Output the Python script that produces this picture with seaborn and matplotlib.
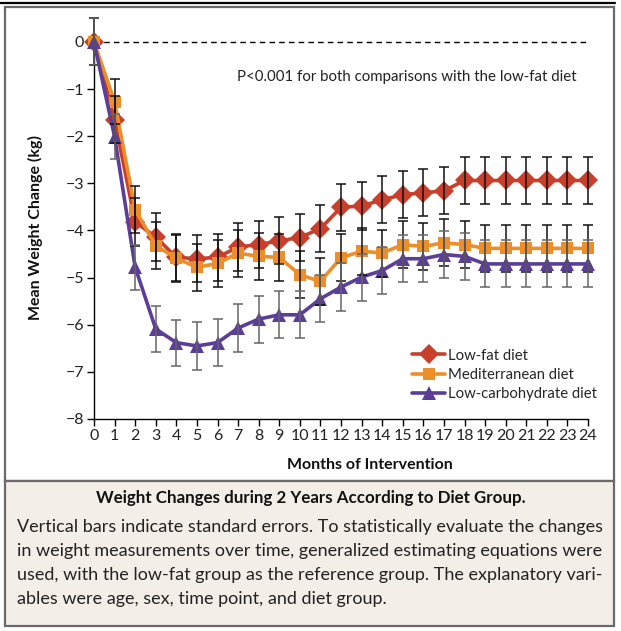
import numpy as np
import pandas as pd
import matplotlib.pyplot as plt
import seaborn as sns
from matplotlib.patches import Rectangle
from matplotlib.lines import Line2D

# --------------------------------------------------------------
# Data
# --------------------------------------------------------------

months = list(range(25))

low_fat = [0.0, -1.65, -3.82, -4.14, -4.57, -4.6, -4.57, -4.35, -4.3, -4.22, -4.15,
           -3.96, -3.51, -3.48, -3.35, -3.24, -3.2, -3.16, -2.94, -2.94, -2.94,
           -2.94, -2.94, -2.94, -2.94]
mediterranean = [0.0, -1.27, -3.56, -4.32, -4.59, -4.78, -4.7, -4.48, -4.55, -4.57, -4.94,
                 -5.08, -4.58, -4.44, -4.48, -4.3, -4.34, -4.26, -4.3, -4.38, -4.38,
                 -4.38, -4.38, -4.38, -4.38]
low_carb = [0.0, -2.01, -4.78, -6.09, -6.38, -6.45, -6.38, -6.07, -5.88, -5.79, -5.79,
            -5.45, -5.2, -4.99, -4.85, -4.6, -4.6, -4.51, -4.55, -4.71, -4.71,
            -4.71, -4.71, -4.71, -4.71]

se_low_fat = [0.5, 0.5, 0.5, 0.5, 0.5, 0.5, 0.5, 0.5, 0.5, 0.5, 0.5, 0.5, 0.5,
              0.5, 0.5, 0.5, 0.5, 0.5, 0.5, 0.5, 0.5, 0.5, 0.5, 0.5, 0.5]
se_mediterranean = [0.5, 0.48, 0.5, 0.5, 0.5, 0.5, 0.5, 0.5, 0.5, 0.5, 0.5, 0.5, 0.5,
                    0.5, 0.5, 0.5, 0.5, 0.5, 0.5, 0.5, 0.5, 0.5, 0.5, 0.5, 0.5]
se_low_carb = [0.5, 0.48, 0.48, 0.49, 0.49, 0.5, 0.5, 0.5, 0.5, 0.5, 0.5, 0.5, 0.5,
               0.5, 0.5, 0.5, 0.5, 0.5, 0.5, 0.5, 0.5, 0.5, 0.5, 0.5, 0.5]

diets = ["Low-fat diet", "Mediterranean diet", "Low-carbohydrate diet"]
colors = ["#c8402b", "#ec8f2b", "#5a3e98"]
markers = ["D", "s", "^"]
msizes = [10, 9, 10]
bar_colors = ["#111111", "#111111", "#666666"]

df = pd.DataFrame({
    "month": months * 3,
    "change": low_fat + mediterranean + low_carb,
    "se": se_low_fat + se_mediterranean + se_low_carb,
    "diet": [d for d in diets for _ in months],
})

# --------------------------------------------------------------
# Figure
# --------------------------------------------------------------

sns.set_theme(style="white")
plt.rcParams["font.family"] = ["Lato", "DejaVu Sans"]
W, H = 621, 631
fig = plt.figure(figsize=(W / 100, H / 100), dpi=100)


def fx(px):
    return px / W


def fy(py):
    return 1 - py / H


# outer frame and caption box
fig.add_artist(Line2D([0, fx(615)], [fy(2.5), fy(2.5)], color="black", lw=1.6))
fig.patches.append(Rectangle((fx(5), fy(481)), fx(614) - fx(5), fy(7) - fy(481),
                             transform=fig.transFigure, facecolor="white",
                             edgecolor="#6a6a6a", lw=1.6, zorder=-2))
fig.patches.append(Rectangle((fx(5), fy(626)), fx(614) - fx(5), fy(481) - fy(626),
                             transform=fig.transFigure, facecolor="#f4eee9",
                             edgecolor="#6a6a6a", lw=1.6, zorder=-2))

ax = fig.add_axes([fx(94), fy(419), fx(588) - fx(94), fy(16) - fy(419)])
ax.set_facecolor("none")

sns.lineplot(data=df, x="month", y="change", hue="diet", style="diet",
             hue_order=diets, style_order=diets, palette=colors,
             markers=markers, dashes=False, lw=2.6, markeredgewidth=0,
             ax=ax, zorder=3, clip_on=False, legend=False)
for line, ms in zip(ax.lines, msizes):
    line.set_markersize(ms)

for d, c in zip(diets, bar_colors):
    sub = df[df["diet"] == d]
    ax.errorbar(sub["month"], sub["change"], yerr=sub["se"], fmt="none",
                ecolor=c, elinewidth=1.1, capsize=3.5, capthick=1.1,
                zorder=4, clip_on=False)

ax.axhline(0, color="black", lw=1, ls=(0, (4, 3)), zorder=1)

ax.set_xlim(0, 24)
ax.set_ylim(-8, 0.55)
ax.set_xticks(months)
ax.set_yticks(range(-8, 1))
ax.set_yticklabels(["\u22128", "\u22127", "\u22126", "\u22125", "\u22124",
                    "\u22123", "\u22122", "\u22121", "0"])
ax.tick_params(axis="both", direction="out", length=5, width=1, colors="black",
               labelsize=11.5, labelcolor="#222222", left=True, bottom=True, pad=2)
for s in ["top", "right"]:
    ax.spines[s].set_visible(False)
for s in ["left", "bottom"]:
    ax.spines[s].set_color("black")
    ax.spines[s].set_linewidth(1)
ax.spines["left"].set_bounds(-8, 0)
ax.set_xlabel("")
ax.set_ylabel("")

ax.text(23.45, -0.75, "P<0.001 for both comparisons with the low-fat diet",
        ha="right", va="center", fontsize=10.8, color="#222222")

handles = [Line2D([], [], color=c, marker=m, ms=ms, lw=2.6, markeredgewidth=0)
           for c, m, ms in zip(colors, markers, msizes)]
ax.legend(handles, diets, loc="lower right", bbox_to_anchor=(1.03, 0.03),
          frameon=False, fontsize=10.7, handlelength=2.2, handletextpad=0.2,
          labelspacing=0.35, borderaxespad=0)

fig.text(fx(35), fy(228), "Mean Weight Change (kg)", rotation=90, ha="center",
         va="center", fontsize=11.5, fontweight="bold", color="#111111")
fig.text(fx(370), fy(465), "Months of Intervention", ha="center", va="center",
         fontsize=11.5, fontweight="bold", color="#111111")

fig.text(fx(311), fy(498), "Weight Changes during 2 Years According to Diet Group.",
         ha="center", va="center", fontsize=12.2, fontweight="bold", color="#111111")
caption = ["Vertical bars indicate standard errors. To statistically evaluate the changes",
           "in weight measurements over time, generalized estimating equations were",
           "used, with the low-fat group as the reference group. The explanatory vari-",
           "ables were age, sex, time point, and diet group."]
for i, txt in enumerate(caption):
    fig.text(fx(17), fy(527 + 24 * i), txt, ha="left", va="center",
             fontsize=13, color="#222222")

fig.savefig("out.png", dpi=100)
